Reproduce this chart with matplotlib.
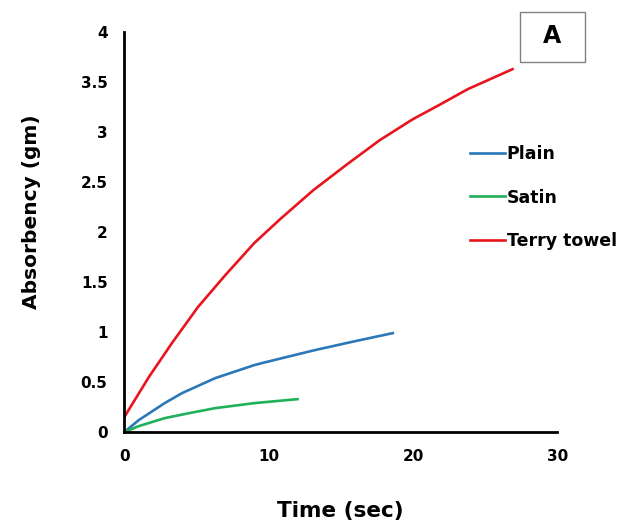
import matplotlib.pyplot as plt
from matplotlib.patches import Rectangle

# values
plain_t = [0, 1.0, 2.8, 4.0, 6.3, 9.0, 9.8, 13.2, 16.0, 18.6]
plain_a = [0, 0.12, 0.29, 0.39, 0.54, 0.67, 0.70, 0.82, 0.91, 0.99]

satin_t = [0, 1.0, 2.8, 4.5, 6.3, 9.0, 12.0]
satin_a = [0, 0.06, 0.14, 0.19, 0.24, 0.29, 0.33]

terry_t = [0, 1.7, 3.3, 5.1, 7.0, 9.0, 10.8, 13.1, 15.45, 17.7, 20.0, 21.8, 23.8, 26.9]
terry_a = [0.15, 0.55, 0.89, 1.25, 1.57, 1.89, 2.13, 2.42, 2.68, 2.92, 3.13, 3.27, 3.43, 3.63]

x_ticks = [0, 10, 20, 30]
y_ticks = [0, 0.5, 1, 1.5, 2, 2.5, 3, 3.5, 4]
y_tick_labels = ["0", "0.5", "1", "1.5", "2", "2.5", "3", "3.5", "4"]

plt.rcParams["font.family"] = ["DejaVu Sans"]
plt.rcParams["font.weight"] = "bold"

fig = plt.figure(figsize=(6.34, 5.27), dpi=100)
ax = fig.add_axes([0.196, 0.180, 0.683, 0.759])

ax.plot(plain_t, plain_a, color="#2b78b8", lw=1.9, label="Plain")
ax.plot(satin_t, satin_a, color="#1fb05a", lw=1.9, label="Satin")
ax.plot(terry_t, terry_a, color="#e8141e", lw=1.9, label="Terry towel")

ax.set_xlim(0, 30)
ax.set_ylim(0, 4)
ax.set_xticks(x_ticks)
ax.set_yticks(y_ticks)
ax.set_yticklabels(y_tick_labels)
ax.tick_params(length=0, labelsize=11, pad=12)
for lab in ax.get_xticklabels() + ax.get_yticklabels():
    lab.set_fontweight("bold")

for side in ("top", "right"):
    ax.spines[side].set_visible(False)
for side in ("left", "bottom"):
    ax.spines[side].set_linewidth(2.0)
    ax.spines[side].set_color("black")

ax.set_xlabel("Time (sec)", fontsize=15.5, fontweight="bold", labelpad=27)
ax.set_ylabel("Absorbency (gm)", fontsize=14.5, fontweight="bold")
ax.yaxis.set_label_coords(-0.192, 0.55)

leg = ax.legend(loc="upper left", bbox_to_anchor=(0.799, 0.717), frameon=False,
                handlelength=2.0, handletextpad=0.1, labelspacing=1.45,
                borderpad=0, borderaxespad=0,
                prop={"size": 12.5, "weight": "bold"})

# panel tag "A" in a thin grey box
fig.add_artist(Rectangle((0.820, 0.882), 0.1025, 0.095, transform=fig.transFigure,
                         facecolor="white", edgecolor="#808080", lw=1.0))
fig.text(0.871, 0.932, "A", fontsize=17, fontweight="bold", ha="center", va="center")

fig.savefig("out.png", dpi=100)
